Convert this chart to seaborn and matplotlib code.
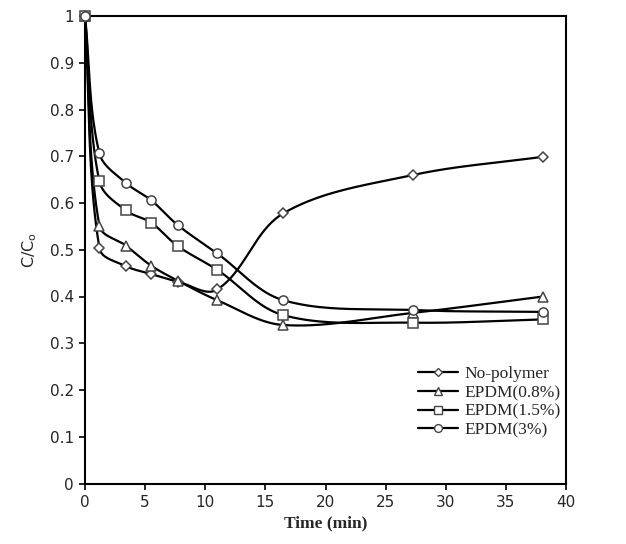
import numpy as np
import pandas as pd
import matplotlib
matplotlib.use("Agg")
import matplotlib.pyplot as plt
import seaborn as sns
from matplotlib.lines import Line2D

# Sampling times (min) and normalised concentration C/Co for each run
time_min = [0, 1.2, 3.4, 5.5, 7.7, 11.0, 16.5, 27.3, 38.1]
no_polymer = [1.0, 0.503, 0.465, 0.448, 0.432, 0.415, 0.578, 0.660, 0.699]
epdm_08 = [1.0, 0.551, 0.509, 0.466, 0.434, 0.392, 0.339, 0.365, 0.400]
epdm_15 = [1.0, 0.646, 0.584, 0.558, 0.508, 0.457, 0.360, 0.344, 0.351]
epdm_3 = [1.0, 0.706, 0.643, 0.606, 0.553, 0.492, 0.392, 0.371, 0.367]

series_names = ["No-polymer", "EPDM(0.8%)", "EPDM(1.5%)", "EPDM(3%)"]
series_values = [no_polymer, epdm_08, epdm_15, epdm_3]

x_ticks = [0, 5, 10, 15, 20, 25, 30, 35, 40]
y_ticks = [0, 0.1, 0.2, 0.3, 0.4, 0.5, 0.6, 0.7, 0.8, 0.9, 1]
y_tick_labels = ["0", "0.1", "0.2", "0.3", "0.4", "0.5", "0.6", "0.7", "0.8", "0.9", "1"]

X_RANGE, Y_RANGE = 40.0, 1.0

markers = {"No-polymer": ("D", 5.0), "EPDM(0.8%)": ("^", 7.5),
           "EPDM(1.5%)": ("s", 7.2), "EPDM(3%)": ("o", 6.6)}


def smooth(xs, ys, n=40):
    """Smoothed Bezier line through the points; tangent handles scale with each
    segment's own length so short segments do not overshoot."""
    p = np.column_stack([np.asarray(xs) / X_RANGE, np.asarray(ys) / Y_RANGE])
    npts = len(p)
    dirs = []
    for i in range(npts):
        a = p[max(i - 1, 0)]
        b = p[min(i + 1, npts - 1)]
        d = b - a
        dirs.append(d / np.linalg.norm(d))
    out = []
    for i in range(npts - 1):
        p1, p2 = p[i], p[i + 1]
        L = np.linalg.norm(p2 - p1)
        c1 = p1 + dirs[i] * L / 3.0
        c2 = p2 - dirs[i + 1] * L / 3.0
        t = np.linspace(0, 1, n)[:, None]
        seg = ((1 - t) ** 3) * p1 + 3 * ((1 - t) ** 2) * t * c1 + 3 * (1 - t) * t ** 2 * c2 + t ** 3 * p2
        out.append(seg if i == 0 else seg[1:])
    out = np.vstack(out)
    return out[:, 0] * X_RANGE, out[:, 1] * Y_RANGE


sns.set_style("ticks")
plt.rcParams["font.family"] = ["DejaVu Sans"]

fig = plt.figure(figsize=(6.26, 5.44), dpi=100)
ax = fig.add_axes([85 / 626, 1 - 483.5 / 544, (566 - 85) / 626, (483.5 - 16) / 544])

frames = []
for name, vals in zip(series_names, series_values):
    sx, sy = smooth(time_min, vals)
    frames.append(pd.DataFrame({"t": sx, "c": sy, "series": name}))
curves = pd.concat(frames, ignore_index=True)

sns.lineplot(data=curves, x="t", y="c", hue="series", units="series", estimator=None,
             sort=False, palette=["black"] * 4, linewidth=1.6, legend=False, ax=ax, zorder=2)

for name, vals in zip(series_names, series_values):
    m, ms = markers[name]
    ax.plot(time_min, vals, linestyle="none", marker=m, markersize=ms, clip_on=False,
            markerfacecolor="white", markeredgecolor="#444444", markeredgewidth=1.1, zorder=3)

ax.set_xlim(0, 40)
ax.set_ylim(0, 1)
ax.set_xticks(x_ticks)
ax.set_yticks(y_ticks)
ax.set_yticklabels(y_tick_labels)
ax.tick_params(axis="both", direction="out", length=4, width=1.2, labelsize=11, pad=4, color="black")
for sp in ax.spines.values():
    sp.set_visible(True)
    sp.set_linewidth(1.5)
    sp.set_color("black")

ax.set_xlabel("Time (min)", family="Liberation Serif", fontweight="bold", fontsize=12.5, labelpad=4)
ax.set_ylabel("C/C$_\\mathregular{o}$", fontsize=11.5, labelpad=8)

handles = []
for name in series_names:
    m, ms = markers[name]
    handles.append(Line2D([0], [0], color="black", linewidth=1.6, marker=m, markersize=ms * 0.85,
                          markerfacecolor="white", markeredgecolor="#444444", markeredgewidth=1.0))
leg = fig.legend(handles, series_names, loc="upper left", bbox_to_anchor=(418 / 626, 1 - 366 / 544),
                 frameon=False, prop={"family": "Liberation Serif", "size": 12.5},
                 handlelength=2.3, handletextpad=0.35, labelspacing=0.15,
                 borderpad=0, borderaxespad=0)

fig.savefig("out.png", dpi=100)
